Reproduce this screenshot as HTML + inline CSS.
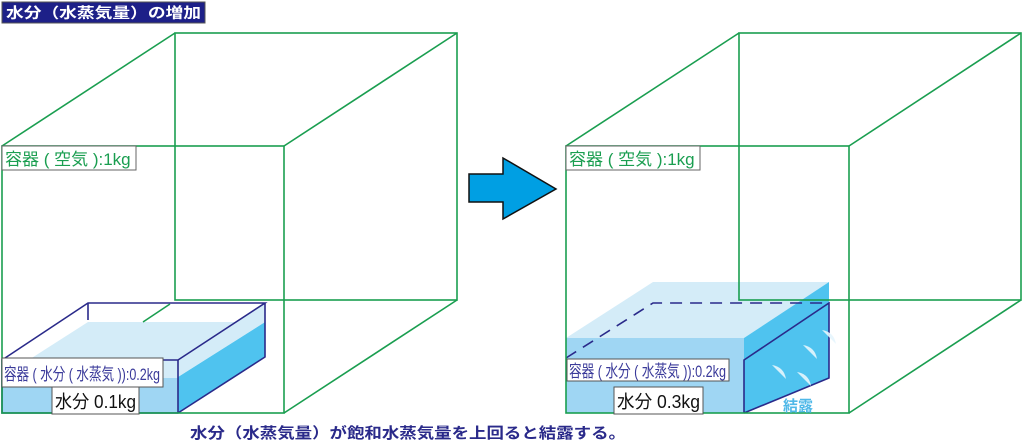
<!DOCTYPE html>
<html><head><meta charset="utf-8"><style>
body{margin:0;background:#fff;}
svg{display:block;font-family:"Liberation Sans","Noto Sans CJK JP",sans-serif;}
</style></head><body>
<svg width="1024" height="441" viewBox="0 0 1024 441" xmlns="http://www.w3.org/2000/svg">
<!-- left water box -->
<polygon points="88,322 265,322 178,377 2,377" fill="#d4ecf8"/>
<polygon points="2,360 178,360 178,413 2,413" fill="#9fd6f3"/>
<polygon points="2,360 178,360 178,378 2,378" fill="#d4ecf8"/>
<polygon points="178,377 265,322 265,357 178,413" fill="#4fc3ef"/>
<polygon points="178,360 265,303 265,322 178,377" fill="#d4ecf8"/>
<g fill="none" stroke="#2a2a8a" stroke-width="1.6">
<polyline points="2,360 88,303 265,303 178,360 2,360 2,413 178,413 265,357 265,303"/>
<line x1="178" y1="360" x2="178" y2="413"/>
<line x1="88" y1="303" x2="88" y2="320"/>
</g>
<!-- right water -->
<polygon points="653,282 829,282 744,338 566,338" fill="#d4ecf8"/>
<polygon points="566,338 744,338 744,413 566,413" fill="#9fd6f3"/>
<polygon points="744,338 829,282 829,378 744,413" fill="#4fc3ef"/>
<g fill="none" stroke="#2a2a8a" stroke-width="1.6">
<polyline points="566,358 653,303 829,303" stroke-dasharray="12,8"/>
<polyline points="744,413 744,360 829,303 829,378 744,413"/>
</g>
<g fill="#e6f6fd" opacity="0.9">
<path d="M822,330 q12,2 14,14 q-8,-8 -14,-14z"/>
<path d="M803,345 q12,2 14,14 q-8,-8 -14,-14z"/>
<path d="M772,365 q12,2 14,14 q-8,-8 -14,-14z"/>
<path d="M797,372 q12,2 14,14 q-8,-8 -14,-14z"/>
</g>
<!-- cubes -->
<g fill="none" stroke="#1a9e50" stroke-width="1.6">
<rect x="2" y="146" width="282" height="267"/>
<rect x="175" y="33" width="282" height="267"/>
<line x1="2" y1="146" x2="175" y2="33"/>
<line x1="284" y1="146" x2="457" y2="33"/>
<line x1="284" y1="413" x2="457" y2="300"/>
<rect x="566" y="146" width="283" height="267"/>
<rect x="739" y="33" width="282" height="267"/>
<line x1="566" y1="146" x2="739" y2="33"/>
<line x1="849" y1="146" x2="1021" y2="33"/>
<line x1="849" y1="413" x2="1021" y2="300"/>
</g>
<line x1="143" y1="322" x2="170" y2="304" stroke="#1a9e50" stroke-width="1.6"/>
<!-- labels -->
<rect x="2" y="146" width="134" height="24" fill="#fff" stroke="#666" stroke-width="1"/>
<text x="5" y="165" font-size="17" fill="#1a9e50">容器 ( 空気 ):1kg</text>
<rect x="566" y="146" width="134" height="24" fill="#fff" stroke="#666" stroke-width="1"/>
<text x="569" y="165" font-size="17" fill="#1a9e50">容器 ( 空気 ):1kg</text>
<rect x="2" y="358" width="161" height="29" fill="#fff" stroke="#555" stroke-width="1"/>
<text x="4" y="380" font-size="17" fill="#3a3a9a" textLength="156" lengthAdjust="spacingAndGlyphs">容器 ( 水分 ( 水蒸気 )):0.2kg</text>
<rect x="52" y="387" width="87" height="27" fill="#fff" stroke="#555" stroke-width="1"/>
<text x="55" y="408" font-size="18" fill="#111" textLength="81" lengthAdjust="spacingAndGlyphs">水分 0.1kg</text>
<rect x="567" y="359" width="162" height="22" fill="#fff" stroke="#555" stroke-width="1"/>
<text x="569" y="377" font-size="17" fill="#3a3a9a" textLength="157" lengthAdjust="spacingAndGlyphs">容器 ( 水分 ( 水蒸気 )):0.2kg</text>
<rect x="614" y="387" width="89" height="27" fill="#fff" stroke="#555" stroke-width="1"/>
<text x="617" y="408" font-size="18" fill="#111" textLength="83" lengthAdjust="spacingAndGlyphs">水分 0.3kg</text>
<text x="783" y="411" font-size="15" font-weight="bold" fill="#4fb8e8">結露</text>
<!-- arrow -->
<polygon points="469,174 503,174 503,158 556,189 503,219 503,202 469,202" fill="#009fe3" stroke="#111" stroke-width="1.5"/>
<!-- title -->
<rect x="2" y="2" width="203" height="21" fill="#1d2088" stroke="#555" stroke-width="1"/>
<text x="6" y="18" font-size="14.5" font-weight="bold" fill="#fff" textLength="195" lengthAdjust="spacingAndGlyphs">水分（水蒸気量）の増加</text>
<text x="190" y="438" font-size="15" font-weight="bold" fill="#2a2a8a" textLength="436" lengthAdjust="spacingAndGlyphs">水分（水蒸気量）が飽和水蒸気量を上回ると結露する。</text>
</svg>
</body></html>
